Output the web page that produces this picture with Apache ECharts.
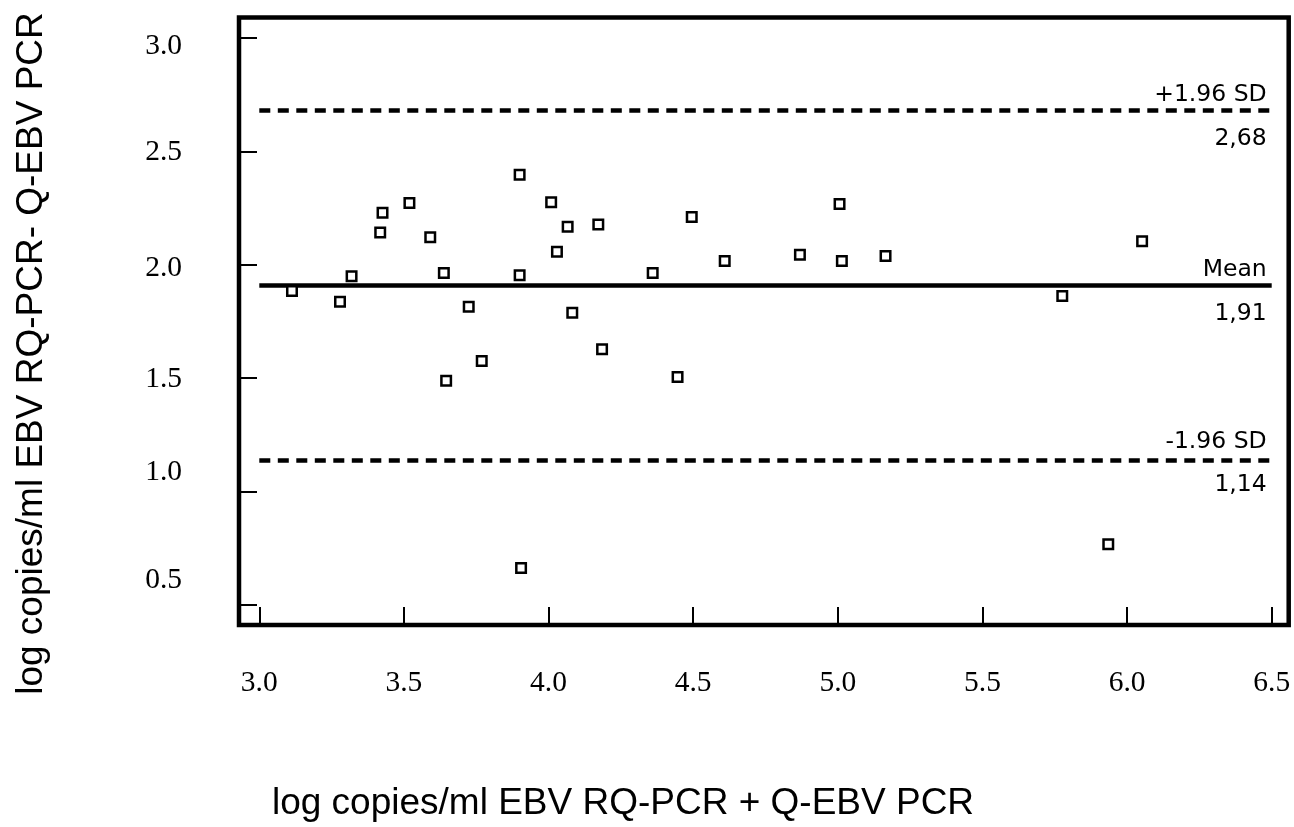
<!DOCTYPE html>
<html><head><meta charset="utf-8">
<script src="https://cdn.jsdelivr.net/npm/echarts@6/dist/echarts.min.js"></script>
<style>html,body{margin:0;padding:0;background:#fff}#c{width:1294px;height:827px}</style>
</head><body><div id="c"></div>
<script>
// Bland-Altman data
const xValues = [3.113,3.279,3.319,3.418,3.426,3.519,3.591,3.638,3.646,3.724,3.769,3.900,3.900,3.905,4.009,4.029,4.066,4.082,4.172,4.185,4.360,4.446,4.495,4.609,4.869,5.006,5.014,5.165,5.776,5.935,6.052];
const yValues = [1.884,1.837,1.950,2.142,2.230,2.272,2.121,1.964,1.489,1.815,1.576,2.397,1.954,0.663,2.276,2.058,2.168,1.789,2.178,1.628,1.964,1.505,2.211,2.017,2.044,2.268,2.017,2.039,1.862,0.768,2.104];
const refValues = [2.68, 1.91, 1.14];
const refNames = ['+1.96 SD', 'Mean', '-1.96 SD'];
const refLabels = ['2,68', '1,91', '1,14'];
const refDashed = [true, false, true];
const xTickLabels = ['3.0','3.5','4.0','4.5','5.0','5.5','6.0','6.5'];
const yTickLabels = ['0.5','1.0','1.5','2.0','2.5','3.0'];
const xTitle = 'log copies/ml EBV RQ-PCR + Q-EBV PCR';
const yTitle = 'log copies/ml EBV RQ-PCR- Q-EBV PCR';

// styling of the original's slightly misplaced y labels (vertical shift in px)
const yLabelShift = [-25, -19, 1, 3, 0.5, 8.5];
const aboveDist = [4, 3, 6];
const belowDist = [16, 17, 13];

const rich = {};
yTickLabels.forEach((t, i) => {
  const s = yLabelShift[i];
  rich['s' + i] = {
    fontFamily: 'Liberation Serif', fontSize: 29.5, color: '#000',
    padding: s >= 0 ? [2 * s, 0, 0, 0] : [0, 0, -2 * s, 0]
  };
});

const points = xValues.map((x, i) => [x, yValues[i]]);
const markData = [];
refValues.forEach((v, i) => {
  markData.push({
    yAxis: v,
    lineStyle: { color: '#000', width: 4.5, type: refDashed[i] ? [11, 7.5] : 'solid' },
    label: { show: true, formatter: refNames[i], position: 'insideEndTop', distance: [5, aboveDist[i]],
      fontFamily: 'DejaVu Sans', fontSize: 23.5, color: '#000' }
  });
  markData.push({
    yAxis: v,
    lineStyle: { color: 'rgba(0,0,0,0)', width: 1, type: 'solid' },
    label: { show: true, formatter: refLabels[i], position: 'insideEndBottom', distance: [5, belowDist[i]],
      fontFamily: 'DejaVu Sans', fontSize: 23.5, color: '#000', opacity: 1 }
  });
});

const chart = echarts.init(document.getElementById('c'), null, { renderer: 'canvas' });
chart.setOption({
  backgroundColor: '#fff',
  animation: false,
  grid: [
    { left: 259.3, right: 22.3, top: 38, bottom: 221 },
    { left: 239, right: 5.3, top: 17.5, bottom: 202, show: true, borderColor: '#000', borderWidth: 4.5, backgroundColor: 'transparent', z: 3 }
  ],
  xAxis: [
    {
      type: 'value', gridIndex: 0, min: 3, max: 6.5, interval: 0.5, offset: 19,
      axisLine: { show: false },
      axisTick: { show: true, inside: true, length: 17, lineStyle: { color: '#000', width: 2 } },
      splitLine: { show: false },
      axisLabel: { margin: 44, fontFamily: 'Liberation Serif', fontSize: 29.5, color: '#000',
        formatter: v => xTickLabels[Math.round((v - 3) / 0.5)] },
      name: xTitle, nameLocation: 'middle', nameGap: 161,
      nameTextStyle: { fontFamily: 'Liberation Sans', fontSize: 37, color: '#000', padding: [0, 285, 0, 0] }
    },
    { type: 'value', gridIndex: 1, show: false, min: 0, max: 1 }
  ],
  yAxis: [
    {
      type: 'value', gridIndex: 0, min: 0.5, max: 3, interval: 0.5, offset: 20.3,
      axisLine: { show: false },
      axisTick: { show: true, inside: true, length: 18, lineStyle: { color: '#000', width: 2 } },
      splitLine: { show: false },
      axisLabel: { margin: 57, rich: rich,
        formatter: v => { const i = Math.round((v - 0.5) / 0.5); return '{s' + i + '|' + yTickLabels[i] + '}'; } },
      name: yTitle, nameLocation: 'middle', nameGap: 189,
      nameTextStyle: { fontFamily: 'Liberation Sans', fontSize: 37, color: '#000', padding: [0, 64, 0, 0] }
    },
    { type: 'value', gridIndex: 1, show: false, min: 0, max: 1 }
  ],
  series: [
    {
      type: 'line', xAxisIndex: 0, yAxisIndex: 0, data: [], silent: true,
      markLine: { silent: true, symbol: ['none', 'none'], animation: false, data: markData }
    },
    {
      type: 'scatter', xAxisIndex: 0, yAxisIndex: 0, data: points,
      symbol: 'rect', symbolSize: 9.5,
      itemStyle: { color: '#fff', borderColor: '#000', borderWidth: 2.5, opacity: 1 },
      z: 5
    }
  ]
});
</script></body></html>
